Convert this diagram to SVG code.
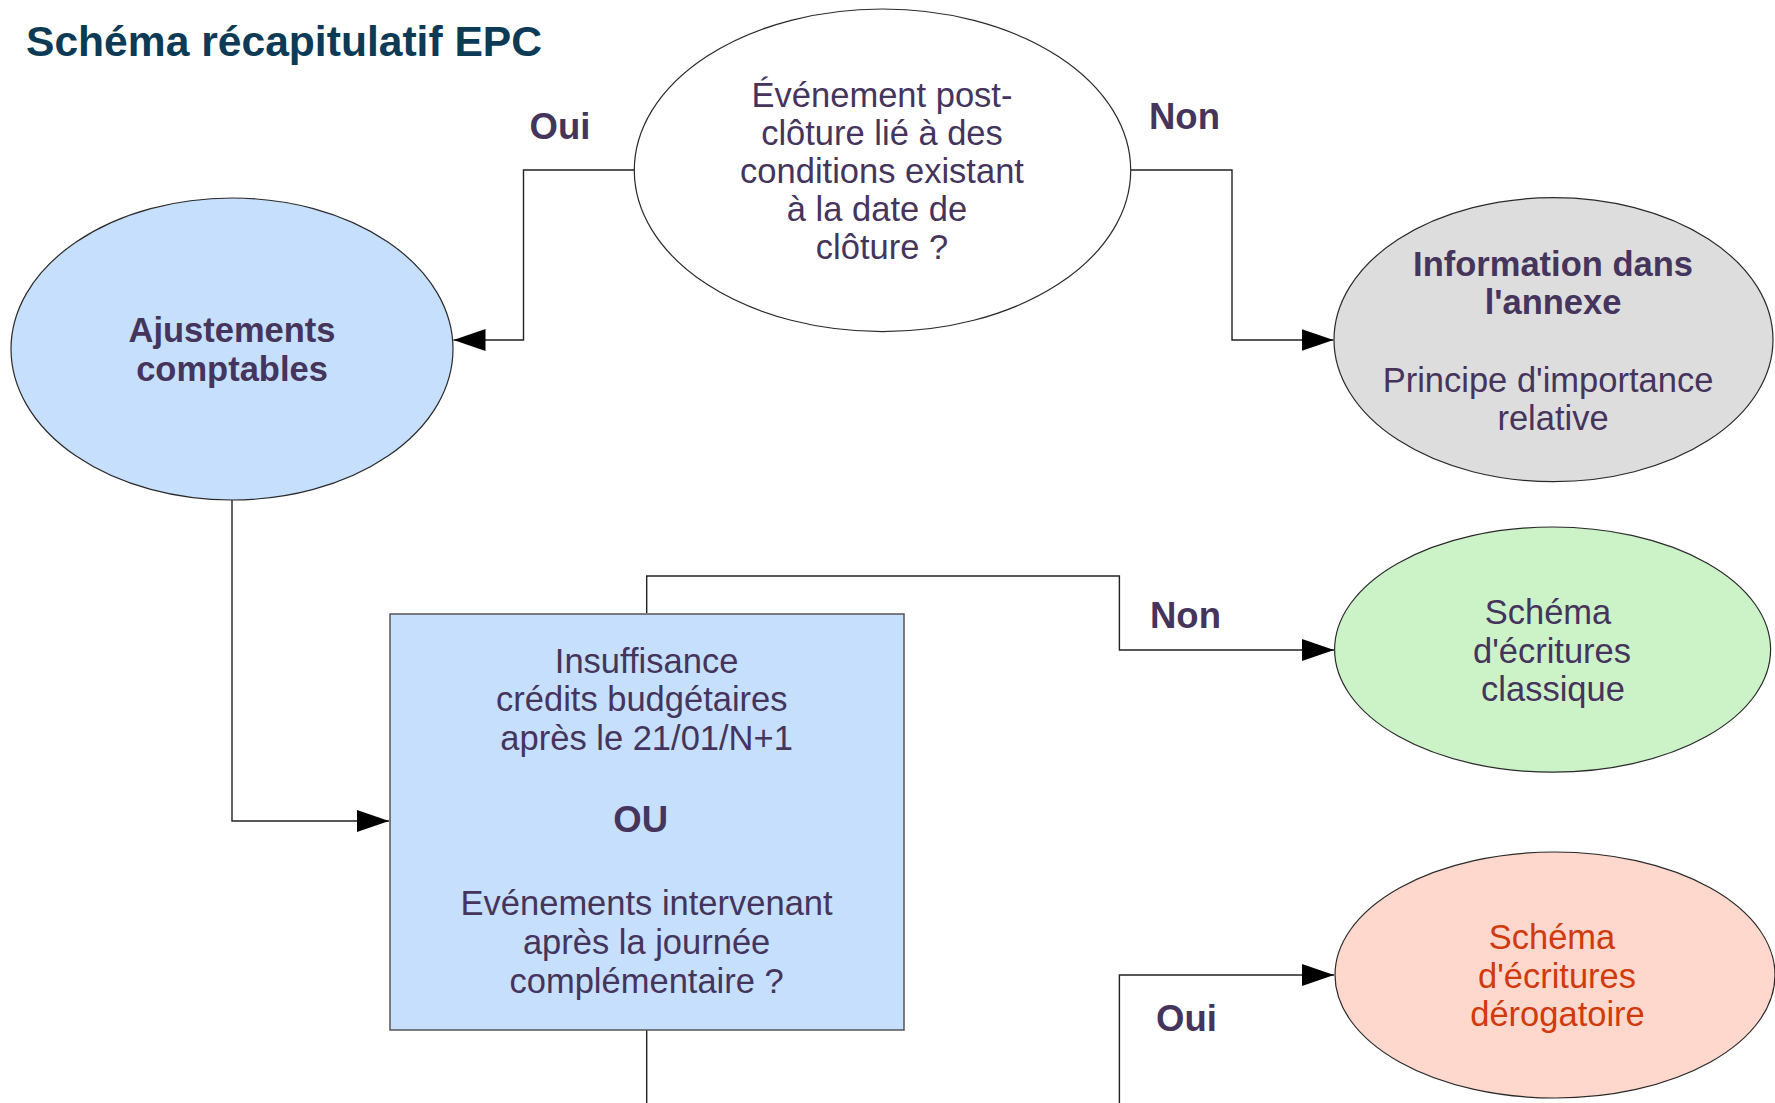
<svg xmlns="http://www.w3.org/2000/svg" width="1775" height="1103" viewBox="0 0 1775 1103">
  <style>
    text { font-family: "Liberation Sans", Arial, sans-serif; fill: #45345c; text-anchor: middle; }
    .t { font-size: 34.5px; }
    .b { font-size: 34.5px; font-weight: bold; }
    .lbl { font-size: 36.5px; font-weight: bold; }
    .title { font-size: 42.6px; font-weight: bold; fill: #0d3a55; text-anchor: start; }
    .red { fill: #d13a0c; }
    .node { stroke: #2a2a2a; stroke-width: 1.2; }
    .conn { fill: none; stroke: #222; stroke-width: 1.4; }
  </style>
  <defs>
    <marker id="arr" markerUnits="userSpaceOnUse" markerWidth="33" markerHeight="23" refX="32" refY="11" orient="auto">
      <path d="M0,0 L32,11 L0,22 z" fill="#000"/>
    </marker>
  </defs>
  <rect width="1775" height="1103" fill="#fff"/>
  <text class="title" x="26" y="56">Schéma récapitulatif EPC</text>

  <g id="connectors">
    <path class="conn" d="M634,170 H523.5 V340 H453.5" marker-end="url(#arr)"/>
    <path class="conn" d="M1131,170 H1232 V340 H1333.5" marker-end="url(#arr)"/>
    <path class="conn" d="M232,500 V821 H389" marker-end="url(#arr)"/>
    <path class="conn" d="M646.7,613 V576 H1119.4 V650 H1334" marker-end="url(#arr)"/>
    <path class="conn" d="M646.7,1030 V1110"/>
    <path class="conn" d="M1119.4,1110 V975 H1334" marker-end="url(#arr)"/>
    <text class="lbl" x="560" y="139">Oui</text>
    <text class="lbl" x="1184.5" y="129">Non</text>
    <text class="lbl" x="1185.5" y="628">Non</text>
    <text class="lbl" x="1186.5" y="1031">Oui</text>
  </g>

  <g id="node-evenement">
    <ellipse class="node" cx="882.5" cy="170.3" rx="248.2" ry="161.3" fill="#ffffff"/>
    <text class="t" x="882" y="107">Événement post-</text>
    <text class="t" x="882" y="145">clôture lié à des</text>
    <text class="t" x="882" y="183">conditions existant</text>
    <text class="t" x="877" y="221">à la date de</text>
    <text class="t" x="882" y="259">clôture ?</text>
  </g>

  <g id="node-ajustements">
    <ellipse class="node" cx="232" cy="349" rx="221" ry="151" fill="#c6dffd"/>
    <text class="b" x="232" y="342">Ajustements</text>
    <text class="b" x="232" y="381">comptables</text>
  </g>

  <g id="node-information">
    <ellipse class="node" cx="1553.5" cy="339.7" rx="219.5" ry="142" fill="#dddddd"/>
    <text class="b" x="1553" y="276">Information dans</text>
    <text class="b" x="1553" y="314">l'annexe</text>
    <text class="t" x="1548" y="392">Principe d'importance</text>
    <text class="t" x="1553" y="430">relative</text>
  </g>

  <g id="node-insuffisance">
    <rect x="390" y="614" width="514" height="416" fill="#c6dffd" stroke="#555" stroke-width="1.5"/>
    <text class="t" x="646.6" y="673">Insuffisance</text>
    <text class="t" x="641.8" y="711">crédits budgétaires</text>
    <text class="t" x="646.6" y="750">après le 21/01/N+1</text>
    <text class="lbl" x="640.7" y="832">OU</text>
    <text class="t" x="646.6" y="915">Evénements intervenant</text>
    <text class="t" x="646.6" y="954">après la journée</text>
    <text class="t" x="646.6" y="993">complémentaire ?</text>
  </g>

  <g id="node-classique">
    <ellipse class="node" cx="1552.6" cy="649.6" rx="218" ry="122.6" fill="#ccf2c8"/>
    <text class="t" x="1548" y="624">Schéma</text>
    <text class="t" x="1552" y="663">d'écritures</text>
    <text class="t" x="1553" y="701">classique</text>
  </g>

  <g id="node-derogatoire">
    <ellipse class="node" cx="1555" cy="975" rx="220" ry="123" fill="#ffd8cd"/>
    <text class="t red" x="1552" y="949">Schéma</text>
    <text class="t red" x="1557" y="988">d'écritures</text>
    <text class="t red" x="1557.5" y="1026">dérogatoire</text>
  </g>
</svg>
